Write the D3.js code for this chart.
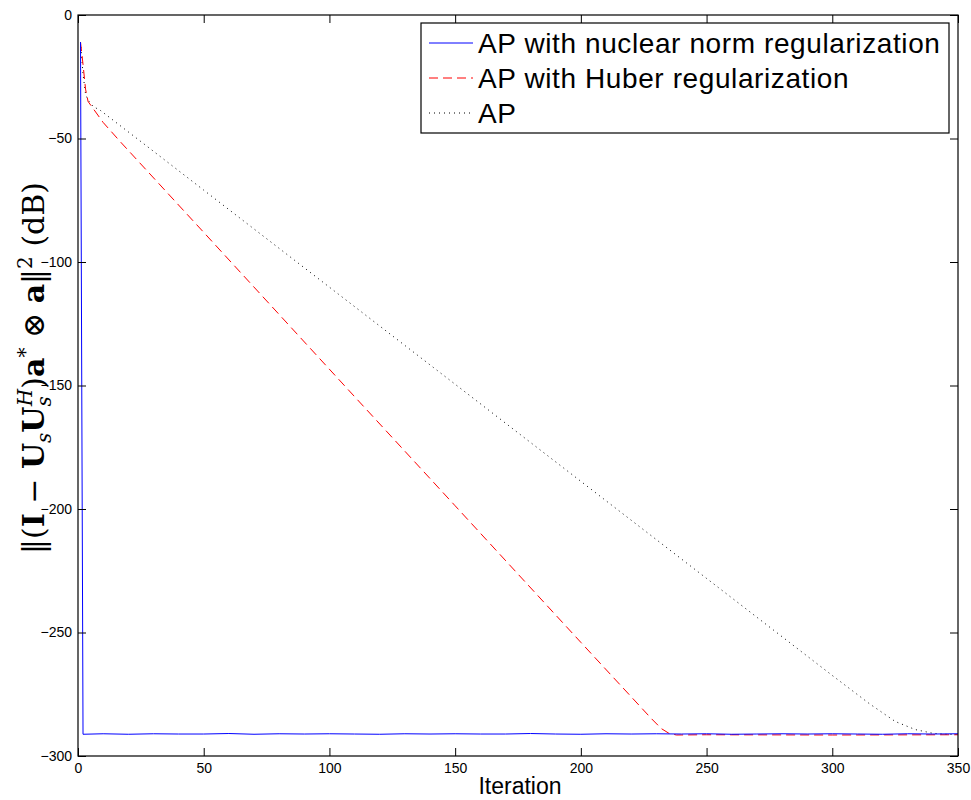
<!DOCTYPE html>
<html>
<head>
<meta charset="utf-8">
<script src="https://cdn.jsdelivr.net/npm/d3@7"></script>
<style>
  body { margin: 0; background: #fff; }
  svg { display: block; }
</style>
</head>
<body>
<div id="chart"></div>
<script>
(function () {

var width = 971;
var height = 800;

var margin = { top: 15, right: 13, bottom: 44, left: 78 };

// x / y tick values
var xTicks = [0, 50, 100, 150, 200, 250, 300, 350];
var yTicks = [0, -50, -100, -150, -200, -250, -300];

// AP with nuclear norm regularization (blue)
var nucIter = [1, 2, 10, 20, 30, 40, 50, 60, 70, 80, 90, 100, 110, 120, 130, 140, 150, 160, 170, 180, 190, 200, 210, 220, 230, 240, 250, 260, 270, 280, 290, 300, 310, 320, 330, 340, 350];
var nucVal = [-11, -291.2, -291.0, -291.2, -291.0, -291.1, -291.1, -290.9, -291.2, -291.0, -291.1, -291.0, -291.1, -291.2, -291.0, -291.1, -291.0, -291.1, -291.1, -290.9, -291.1, -291.2, -291.0, -291.1, -291.0, -291.1, -291.0, -291.2, -291.1, -291.0, -291.1, -291.0, -291.1, -291.2, -291.0, -291.1, -291.0];

// AP with Huber regularization (red dashed)
var hubIter = [1, 2, 3, 4, 10, 17, 50, 110, 150, 200, 228, 232, 235, 238, 250, 300, 350];
var hubVal = [-11, -20, -30, -35, -43.5, -51.5, -88, -154.5, -198.7, -254, -284.8, -288.9, -290.8, -291.5, -291.4, -291.5, -291.4];

// AP (black dotted)
var apIter = [1, 2, 3, 4, 6, 9, 27, 50, 100, 150, 200, 250, 300, 315, 325, 333, 340, 345, 350];
var apVal = [-11, -24, -32, -34.5, -37, -38.7, -52.8, -70.9, -110.2, -149.5, -188.8, -228.1, -267.4, -279.0, -286.0, -289.3, -290.8, -291.2, -291.3];

var legendLabels = ["AP with nuclear norm regularization", "AP with Huber regularization", "AP"];

var svg = d3.select("#chart")
  .append("svg")
  .attr("width", width)
  .attr("height", height);

var w = width - margin.left - margin.right;
var h = height - margin.top - margin.bottom;

var g = svg.append("g")
  .attr("transform", "translate(" + margin.left + "," + margin.top + ")");

var x = d3.scaleLinear().domain([0, 350]).range([0, w]);
var y = d3.scaleLinear().domain([-300, 0]).range([h, 0]);

function zip(a, b) {
  return a.map(function (d, i) { return { i: d, v: b[i] }; });
}

var line = d3.line()
  .x(function (d) { return x(d.i); })
  .y(function (d) { return y(d.v); });

// series
g.append("path")
  .datum(zip(apIter, apVal))
  .attr("fill", "none")
  .attr("stroke", "#000")
  .attr("stroke-width", 1)
  .attr("stroke-dasharray", "1,4")
  .attr("d", line);

g.append("path")
  .datum(zip(hubIter, hubVal))
  .attr("fill", "none")
  .attr("stroke", "#ff0000")
  .attr("stroke-width", 1)
  .attr("stroke-dasharray", "9,5")
  .attr("d", line);

g.append("path")
  .datum(zip(nucIter, nucVal))
  .attr("fill", "none")
  .attr("stroke", "#0000ff")
  .attr("stroke-width", 1)
  .attr("d", line);

// axes, ticks inward like matlab
var font = "'Liberation Sans', Arial, Helvetica, sans-serif";

g.append("g")
  .attr("transform", "translate(0," + h + ")")
  .call(d3.axisBottom(x).tickValues(xTicks).tickSizeInner(-8).tickSizeOuter(0).tickPadding(7));

g.append("g")
  .call(d3.axisLeft(y).tickValues(yTicks).tickSizeInner(-8).tickSizeOuter(0).tickPadding(6));

g.append("g")
  .call(d3.axisTop(x).tickValues(xTicks).tickSizeInner(-8).tickSizeOuter(0).tickFormat(""));

g.append("g")
  .attr("transform", "translate(" + w + ",0)")
  .call(d3.axisRight(y).tickValues(yTicks).tickSizeInner(-8).tickSizeOuter(0).tickFormat(""));

g.selectAll(".domain").remove();
g.selectAll(".tick line").attr("stroke", "#000");
g.selectAll(".tick text")
  .style("font-family", font)
  .style("font-size", "14px")
  .attr("fill", "#000");

// frame
g.append("rect")
  .attr("width", w)
  .attr("height", h)
  .attr("fill", "none")
  .attr("stroke", "#000")
  .attr("stroke-width", 1.2);

// x label
svg.append("text")
  .attr("x", margin.left + w / 2 + 2)
  .attr("y", 794)
  .attr("text-anchor", "middle")
  .style("font-family", font)
  .style("font-size", "23px")
  .text("Iteration");

// y label (latex-ish)
var yl = svg.append("text")
  .attr("transform", "translate(44," + 368 + ") rotate(-90)")
  .attr("text-anchor", "middle")
  .style("font-family", "'DejaVu Serif', 'Liberation Serif', serif")
  .style("font-size", "30px");

var sm = "20px";
yl.append("tspan").text("\u2016(");
yl.append("tspan").style("font-weight", "bold").text("I");
yl.append("tspan").text(" \u2212 ");
yl.append("tspan").style("font-weight", "bold").text("U");
yl.append("tspan").style("font-style", "italic").style("font-size", sm).attr("dy", 7).text("s");
yl.append("tspan").style("font-weight", "bold").attr("dy", -7).text("U");
yl.append("tspan").style("font-style", "italic").style("font-size", sm).attr("dy", 7).text("s");
yl.append("tspan").style("font-style", "italic").style("font-size", sm).attr("dx", -10).attr("dy", -19).text("H");
yl.append("tspan").attr("dy", 12).text(")");
yl.append("tspan").style("font-weight", "bold").text("a");
yl.append("tspan").style("font-size", sm).attr("dy", -12).text("*");
yl.append("tspan").attr("dy", 12).text(" \u2297 ");
yl.append("tspan").style("font-weight", "bold").text("a");
yl.append("tspan").text("\u2016");
yl.append("tspan").style("font-size", sm).attr("dy", -12).text("2");
yl.append("tspan").attr("dy", 12).text(" (dB)");

// legend
var lg = svg.append("g");
lg.append("rect")
  .attr("x", 421)
  .attr("y", 23)
  .attr("width", 528)
  .attr("height", 110)
  .attr("fill", "#fff")
  .attr("stroke", "#000")
  .attr("stroke-width", 1.2);

var legStyles = [
  { color: "#0000ff", dash: null },
  { color: "#ff0000", dash: "9,5" },
  { color: "#000", dash: "1,4" }
];

legendLabels.forEach(function (lab, i) {
  var cy = 43 + i * 35;
  lg.append("line")
    .attr("x1", 429).attr("x2", 473)
    .attr("y1", cy).attr("y2", cy)
    .attr("stroke", legStyles[i].color)
    .attr("stroke-width", 1)
    .attr("stroke-dasharray", legStyles[i].dash);
  lg.append("text")
    .attr("x", 478)
    .attr("y", cy + 10)
    .style("font-family", font)
    .style("font-size", "28px")
    .style("letter-spacing", "0.6px")
    .text(lab);
});

})();
</script>
</body>
</html>
